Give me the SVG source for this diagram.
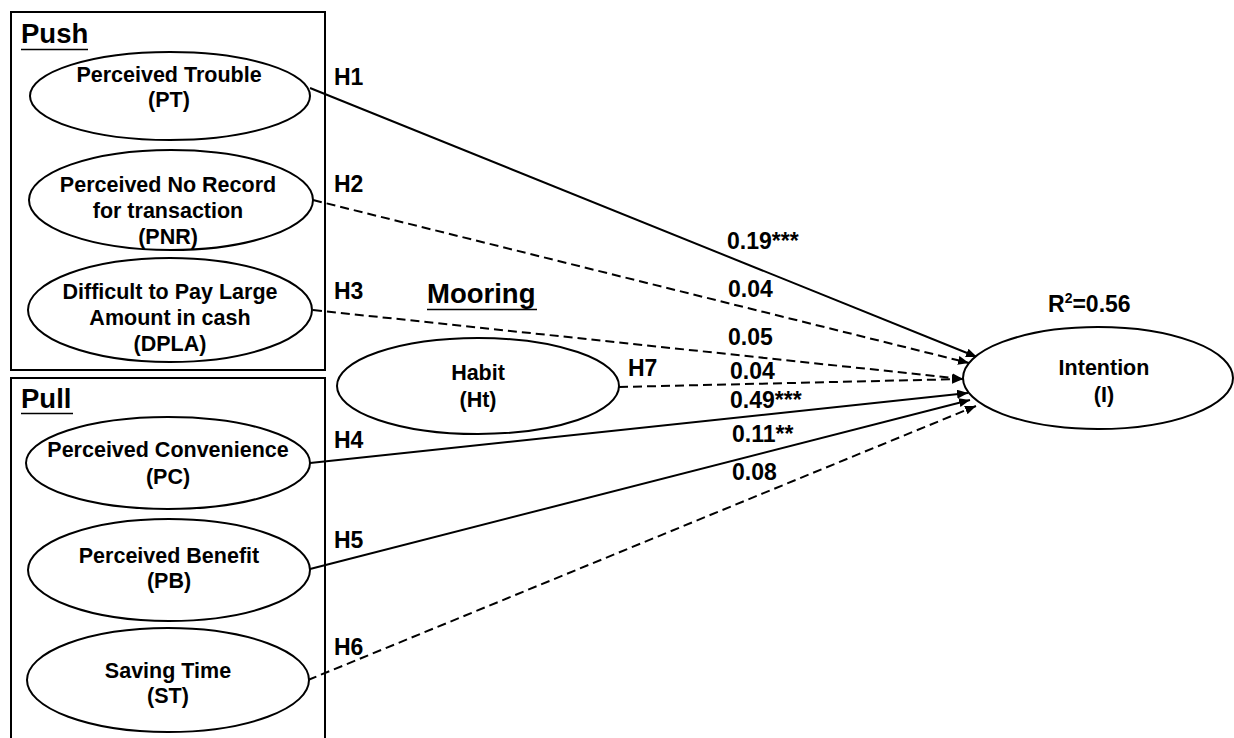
<svg xmlns="http://www.w3.org/2000/svg" width="1234" height="738" viewBox="0 0 1234 738">
<style>
text{font-family:"Liberation Sans",Arial,sans-serif;font-weight:bold;fill:#000}
.n{font-size:21.5px;text-anchor:middle}
.h{font-size:23px}
.c{font-size:23px}
.g{font-size:27.5px}
.box{fill:none;stroke:#000;stroke-width:2}
.el{fill:#fff;stroke:#000;stroke-width:2}
.ul{stroke:#000;stroke-width:1.5}
.s{fill:none;stroke:#000;stroke-width:2;marker-end:url(#ah)}
.d{fill:none;stroke:#000;stroke-width:2;stroke-dasharray:9 5;marker-end:url(#ah)}
</style>
<defs>
<marker id="ah" markerUnits="userSpaceOnUse" markerWidth="12" markerHeight="10" refX="11" refY="4.5" orient="auto">
<path d="M0,0 L11,4.5 L0,9 z" fill="#000"/>
</marker>
</defs>
<rect width="1234" height="738" fill="#fff"/>
<g id="push-group">
<rect class="box" x="11" y="12" width="314" height="358"/>
<text class="g" x="21" y="43">Push</text>
<line class="ul" x1="21" y1="49.5" x2="88" y2="49.5"/>
</g>
<g id="pull-group">
<rect class="box" x="11" y="378" width="314" height="364"/>
<text class="g" x="21" y="408">Pull</text>
<line class="ul" x1="21" y1="413.5" x2="73" y2="413.5"/>
</g>
<g id="mooring-group">
<text class="g" x="427" y="303">Mooring</text>
<line class="ul" x1="427" y1="309.5" x2="537" y2="309.5"/>
</g>
<g id="connectors">
<path class="s" d="M310,88 L977,357"/>
<path class="d" d="M313,200 L969,363"/>
<path class="d" d="M313,310 L963,379"/>
<path class="d" d="M619,387 L963,379"/>
<path class="s" d="M310,463 L968,393"/>
<path class="s" d="M310,569 L970,400"/>
<path class="d" d="M308,680 L976,406"/>
</g>
<g id="labels">
<text class="h" x="334" y="85">H1</text>
<text class="h" x="334" y="192">H2</text>
<text class="h" x="334" y="299">H3</text>
<text class="h" x="628" y="376">H7</text>
<text class="h" x="334" y="448">H4</text>
<text class="h" x="334" y="548">H5</text>
<text class="h" x="334" y="655">H6</text>
<text class="c" x="727" y="249">0.19***</text>
<text class="c" x="728" y="297">0.04</text>
<text class="c" x="728" y="345">0.05</text>
<text class="c" x="730" y="379">0.04</text>
<text class="c" x="730" y="408">0.49***</text>
<text class="c" x="732" y="442">0.11**</text>
<text class="c" x="732" y="480">0.08</text>
</g>
<g id="PT">
<ellipse class="el" cx="170" cy="96" rx="140" ry="44"/>
<text class="n" x="169" y="82">Perceived Trouble</text>
<text class="n" x="169" y="107">(PT)</text>
</g>
<g id="PNR">
<ellipse class="el" cx="171" cy="200" rx="142" ry="50"/>
<text class="n" x="168" y="192">Perceived No Record</text>
<text class="n" x="168" y="218">for transaction</text>
<text class="n" x="168" y="244">(PNR)</text>
</g>
<g id="DPLA">
<ellipse class="el" cx="170" cy="310" rx="142" ry="52"/>
<text class="n" x="170" y="299">Difficult to Pay Large</text>
<text class="n" x="170" y="325">Amount in cash</text>
<text class="n" x="170" y="351">(DPLA)</text>
</g>
<g id="Ht">
<ellipse class="el" cx="478" cy="386" rx="141" ry="48"/>
<text class="n" x="478" y="380">Habit</text>
<text class="n" x="478" y="407">(Ht)</text>
</g>
<g id="PC">
<ellipse class="el" cx="168" cy="463" rx="142" ry="46"/>
<text class="n" x="168" y="457">Perceived Convenience</text>
<text class="n" x="168" y="484">(PC)</text>
</g>
<g id="PB">
<ellipse class="el" cx="169" cy="570" rx="141" ry="51"/>
<text class="n" x="169" y="563">Perceived Benefit</text>
<text class="n" x="169" y="588">(PB)</text>
</g>
<g id="ST">
<ellipse class="el" cx="168" cy="680" rx="141" ry="52"/>
<text class="n" x="168" y="678">Saving Time</text>
<text class="n" x="168" y="703">(ST)</text>
</g>
<g id="I">
<ellipse class="el" cx="1098" cy="378" rx="135" ry="51"/>
<text class="n" x="1104" y="375">Intention</text>
<text class="n" x="1104" y="402">(I)</text>
<text style="font-size:23px" x="1048" y="312">R<tspan dy="-9" style="font-size:14px">2</tspan><tspan dy="9">=0.56</tspan></text>
</g>
</svg>
